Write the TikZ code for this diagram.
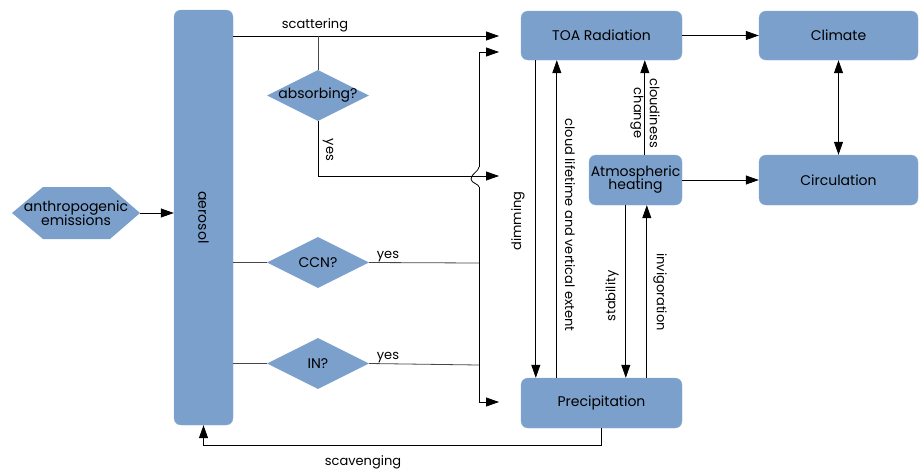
\documentclass[tikz,border=0pt]{standalone}
\usepackage{fontspec}
\setmainfont{Poppins}
\usetikzlibrary{arrows.meta,shapes.geometric,calc}
\definecolor{boxblue}{RGB}{123,160,204}
\definecolor{linegray}{RGB}{70,70,70}
\begin{document}
\begin{tikzpicture}[x=1pt,y=-1pt,
  box/.style={fill=boxblue, draw=boxblue!85!white, rounded corners=7pt, inner sep=0pt,
              font=\fontsize{14}{16}\selectfont, align=center},
  dia/.style={diamond, fill=boxblue, inner sep=0pt, minimum width=102pt, minimum height=51pt},
  txt/.style={font=\fontsize{14}{16}\selectfont, align=center, inner sep=1pt},
  lbl/.style={font=\fontsize{13}{15}\selectfont, align=center, inner sep=1pt},
  arr/.style={draw=black, line width=0.8pt, -{Triangle[length=13pt,width=9pt]}},
  dbl/.style={draw=black, line width=0.8pt, {Triangle[length=13pt,width=9pt]}-{Triangle[length=13pt,width=9pt]}},
  ln/.style={draw=linegray, line width=0.8pt}]
\useasboundingbox (0,0) rectangle (919,472);

% anthropogenic emissions (hexagon)
\fill[boxblue] (12,213) -- (43,187) -- (110,187) -- (140,213) -- (110,239) -- (43,239) -- cycle;
\node[txt] (emi) at (76,213) {anthropogenic\\[-2pt]emissions};
\coordinate (emitip) at (140,213);

% boxes
\node[box, minimum width=59pt, minimum height=415pt] (aer) at (203.5,217.5) {};
\node[txt, rotate=-90] at (aer) {aerosol};
\node[box, minimum width=161pt, minimum height=49pt] (toa) at (601.5,35.5) {TOA Radiation};
\node[box, minimum width=159pt, minimum height=49pt] (cli) at (838.5,35.5) {Climate};
\node[box, minimum width=159pt, minimum height=50pt] (cir) at (838.5,180) {Circulation};
\node[box, minimum width=93pt, minimum height=50pt] (ah) at (635.5,180) {Atmospheric\\[-3pt]heating};
\node[box, minimum width=161pt, minimum height=50pt] (pre) at (601.5,403) {Precipitation};

% diamonds
\node[dia] (abs) at (318,95.5) {};
\node[txt] at (abs) {absorbing?};
\node[dia] (ccn) at (318,262.5) {};
\node[txt] at (ccn) {CCN?};
\node[dia] (inn) at (318,363.5) {};
\node[txt] at (inn) {IN?};

% coordinates
\coordinate (tA) at (499,36);
\coordinate (tB) at (499,52);
\coordinate (tC) at (499,176);
\coordinate (pA) at (499,402);
\coordinate (j1) at (318,36);
\coordinate (b1) at (479,52);
\coordinate (b2) at (479,167);
\coordinate (b3) at (479,187);
\coordinate (b4) at (479,402);
\coordinate (bc) at (479,263);
\coordinate (bi) at (479,365);

% emissions -> aerosol
\draw[arr] (emitip) -- (aer.west |- emitip);

% scattering
\draw[arr] (aer.east |- tA) -- (tA);
\node[lbl, above=3pt] at (315,36) {scattering};
\draw[ln] (j1) -- (abs.north);
\draw[arr] (abs.south) |- (tC);
\node[lbl, rotate=-90] at (328,150) {yes};

% CCN, IN
\draw[ln] (aer.east |- ccn) -- (ccn.west);
\draw[ln] (ccn.east) -- (bc);
\node[lbl, above] at (388,263) {yes};
\draw[ln] (aer.east |- inn) -- (inn.west);
\draw[ln] (inn.east) -- (bi);
\node[lbl, above] at (388,364) {yes};

% bus with bridge
\draw[arr] (b2) -- (b1) -- (tB);
\draw[ln, draw=black] (b2) .. controls (479,171) and (471,174) .. (471,179) .. controls (471,183) and (479,184) .. (b3);
\draw[arr] (b3) -- (b4) -- (pA);

% right side
\draw[arr] (toa) -- (cli);
\draw[arr] (ah) -- (cir);
\draw[dbl] (cli) -- (cir);

% vertical links
\coordinate (dT) at ($(toa.south west)+(15,0)$);
\draw[arr] (dT) -- (dT |- pre.north);
\node[lbl, rotate=90] at (518,221) {dimming};
\coordinate (cB) at ($(pre.north west)+(36,0)$);
\draw[arr] (cB) -- (cB |- toa.south);
\node[lbl, rotate=-90] at (570,225) {cloud lifetime and vertical extent};
\coordinate (clB) at ($(ah.north west)+(56,0)$);
\draw[arr] (clB) -- (clB |- toa.south);
\node[lbl, rotate=-90] at (645,113) {cloudiness\\[1pt]change};
\coordinate (sT) at ($(ah.south west)+(37,0)$);
\draw[arr] (sT) -- (sT |- pre.north);
\node[lbl, rotate=90] at (612,296) {stability};
\coordinate (iB) at ($(pre.north west)+(126,0)$);
\draw[arr] (iB) -- (iB |- ah.south);
\node[lbl, rotate=-90] at (660,292) {invigoration};

% scavenging
\draw[arr] (pre.south) -- ++(0,17) -| (aer.south);
\node[lbl] at (363,462) {scavenging};
\end{tikzpicture}
\end{document}
